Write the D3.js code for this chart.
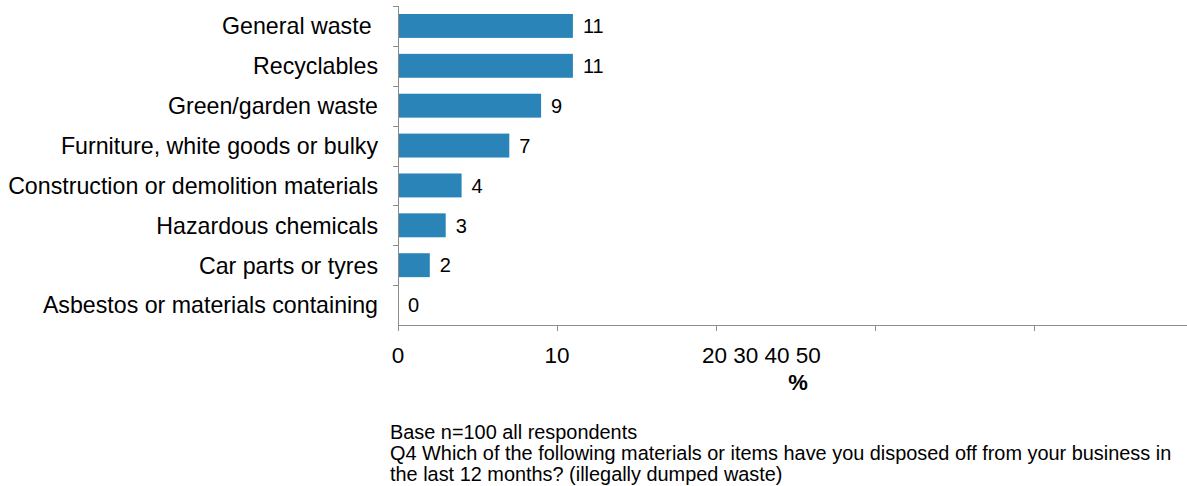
<!DOCTYPE html>
<html><head><meta charset="utf-8">
<script src="https://cdn.jsdelivr.net/npm/d3@7"></script>
<style>
body{margin:0;background:#fff;}
svg text{font-family:"Liberation Sans",Arial,sans-serif;fill:#000;}
</style></head>
<body>
<svg id="c" width="1187" height="486"></svg>
<script>
const categories = ["General waste ", "Recyclables", "Green/garden waste", "Furniture, white goods or bulky", "Construction or demolition materials", "Hazardous chemicals", "Car parts or tyres", "Asbestos or materials containing"];
const values = [11, 11, 9, 7, 4, 3, 2, 0];
const xTicks = [0, 10, 20, 30, 40, 50];
const xTickLabels = ["0", "10", "20 30 40 50", "", "", ""];
const axisTitle = "%";
const footnotes = ["Base n=100 all respondents", "Q4 Which of the following materials or items have you disposed off from your business in", "the last 12 months? (illegally dumped waste)"];

(function(){
const svg = d3.select("#c");
const pLeft = 398, pTop = 6, pBottom = 325, pRight = 1187;
const x = d3.scaleLinear().domain([0, 50]).range([pLeft, pLeft + 795]);
const y = d3.scaleBand().domain(categories).range([pTop, pBottom]).paddingInner(0.4).paddingOuter(0.2);
const axisColor = "#8c8c8c";

// bars
svg.selectAll("rect.bar").data(values).enter().append("rect")
  .attr("x", x(0)).attr("y", (d,i)=>y(categories[i]))
  .attr("width", d=>x(d)-x(0)).attr("height", y.bandwidth())
  .attr("fill", "#2a84b8");

// value labels
svg.selectAll("text.val").data(values).enter().append("text")
  .attr("x", d=>x(d)+10).attr("y", (d,i)=>y(categories[i])+y.bandwidth()/2)
  .attr("dy", "0.36em").attr("font-size", 20).text(d=>d);

// y axis
const step = (pBottom-pTop)/categories.length;
svg.append("line").attr("x1", pLeft+0.5).attr("x2", pLeft+0.5).attr("y1", pTop).attr("y2", pBottom).attr("stroke", axisColor);
d3.range(categories.length).forEach(i=>{
  const yy = Math.round(pTop + i*step)+0.5;
  svg.append("line").attr("x1", pLeft-5).attr("x2", pLeft).attr("y1", yy).attr("y2", yy).attr("stroke", axisColor);
});
svg.selectAll("text.cat").data(categories).enter().append("text")
  .attr("x", 378).attr("y", d=>y(d)+y.bandwidth()/2).attr("dy","0.36em")
  .attr("text-anchor","end").attr("font-size", 23.2).style("white-space","pre").text(d=>d);

// x axis
svg.append("line").attr("x1", pLeft).attr("x2", pRight).attr("y1", pBottom+0.5).attr("y2", pBottom+0.5).attr("stroke", axisColor);
xTicks.forEach((t,i)=>{
  const xx = Math.round(x(t))+0.5;
  if (xx < pRight) svg.append("line").attr("x1", xx).attr("x2", xx).attr("y1", pBottom).attr("y2", pBottom+6).attr("stroke", axisColor);
});
xTicks.forEach((t,i)=>{
  const lab = xTickLabels[i];
  if (!lab) return;
  const multi = lab.indexOf(" ")>=0;
  svg.append("text").attr("x", multi ? x(t)-14 : x(t)).attr("y", 363)
    .attr("text-anchor", multi ? "start" : "middle").attr("font-size", 22.5).text(lab);
});
svg.append("text").attr("x", 798).attr("y", 390).attr("text-anchor","middle")
  .attr("font-size", 22).attr("font-weight","bold").text(axisTitle);

// footnotes
footnotes.forEach((f,i)=>{
  svg.append("text").attr("x", 390).attr("y", 439 + i*21).attr("font-size", 19.9).text(f);
});
})();
</script>
</body></html>
